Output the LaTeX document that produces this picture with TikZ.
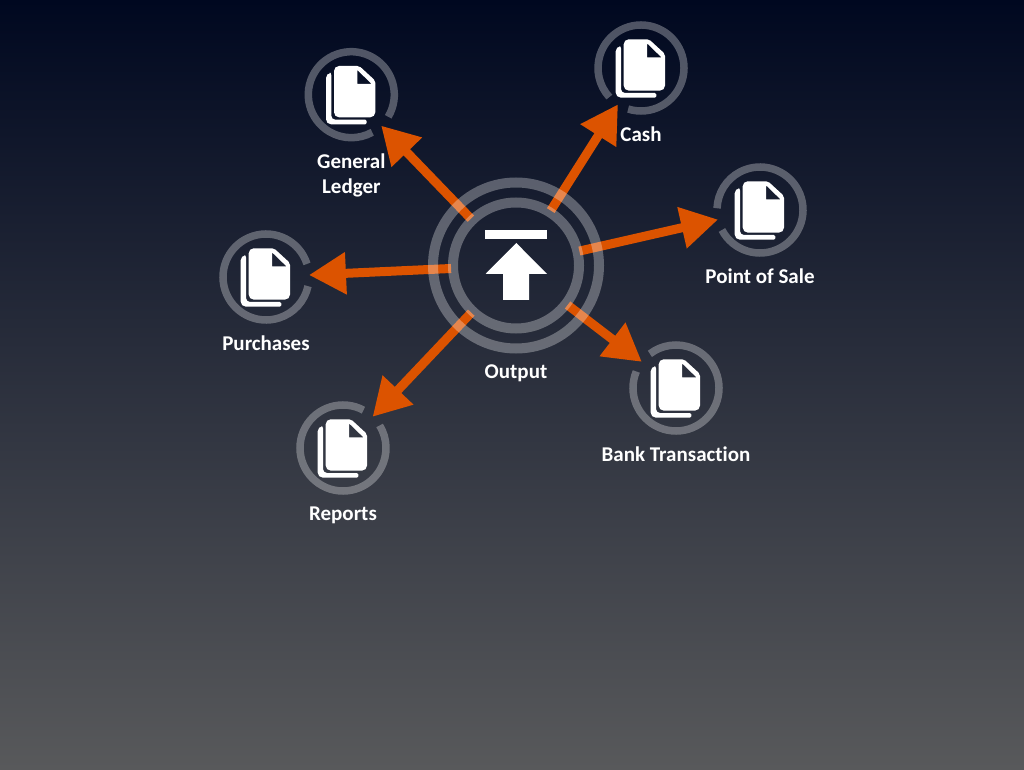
\documentclass[tikz,border=0pt]{standalone}
\usepackage{fontspec}
\setmainfont[Ligatures=NoCommon]{Carlito}
\usepackage{xcolor}
\usetikzlibrary{arrows.meta, positioning}
\definecolor{slidetop}{HTML}{000820}
\definecolor{slidebottom}{HTML}{58595B}
\definecolor{flowred}{HTML}{DC5300}
\tikzset{
  tsat/.style={circle, inner sep=0pt, outer sep=0pt, minimum size=86pt},
  thub/.style={circle, inner sep=0pt, outer sep=0pt, minimum size=130pt},
  tlbl/.style={text=white, align=center, inner sep=0pt, font=\fontsize{21}{25}\selectfont\bfseries},
  tflow/.style={-{Triangle[length=37pt,width=40pt]}, line width=9pt, flowred},
  tring/.style={draw=white, draw opacity=0.3, line width=10pt},
  tarc/.style={draw=white, draw opacity=0.3, line width=7.5pt},
  docicon/.pic={
    \fill[white] [rounded corners=2pt] (-25.3,21.7) -- (-20,21.7) [rounded corners=4pt] -- (-20,-25) [rounded corners=1.5pt] -- (15.4,-25) -- (15.4,-29.6) [rounded corners=5pt] -- (-25.3,-29.6) -- cycle;
    \fill[white, even odd rule] [rounded corners=5pt] (-17.3,28.7) [rounded corners=2pt] -- (8,28.7) -- (24,14) [rounded corners=5pt] -- (24,-22.6) -- (-17.3,-22.6) -- cycle
      [sharp corners] (6,24.7) -- (6,10.7) -- (20.4,10.7) -- cycle;
  },
  uploadicon/.pic={
    \fill[white] (-30.7,35.5) rectangle (31,26.5);
    \fill[white] (0.3,22.5) -- (31,-8.5) -- (13,-8.5) -- (13,-34.5) -- (-13,-34.5) -- (-13,-8.5) -- (-30.5,-8.5) -- cycle;
  },
}
\begin{document}
\begin{tikzpicture}[x=1pt, y=1pt, node distance=15.5pt]
    \shade[top color=slidetop, bottom color=slidebottom] (0,0) rectangle (1024,769);
    \node[thub] (hub) at (516,503.5) {};
    \node[tsat] (ledger) at (351.3,674.3) {};
    \node[tsat] (cash) at (641,701) {};
    \node[tsat] (sale) at (760,559) {};
    \node[tsat] (bank) at (676,381) {};
    \node[tsat] (reports) at (343,321) {};
    \node[tsat] (purchases) at (266,492) {};
    \node[tlbl, below=of hub, yshift=-18.5pt] (hublbl) {Output};
    \node[tlbl, below=of ledger] (ledgerlbl) {General\\Ledger};
    \node[tlbl, below=of cash] (cashlbl) {Cash};
    \node[tlbl, below=of sale] (salelbl) {Point of Sale};
    \node[tlbl, below=of bank] (banklbl) {Bank Transaction};
    \node[tlbl, below=of reports] (reportslbl) {Reports};
    \node[tlbl, below=of purchases] (purchaseslbl) {Purchases};
    \foreach \sat in {ledger, cash, sale, bank, reports, purchases}
      \draw[tflow] (hub) -- (\sat);
    \draw[tring] (hub.center) circle[radius=83pt];
    \draw[tring] (hub.center) circle[radius=63pt];
    \pic at (hub.center) {uploadicon};
    \foreach \sat/\ang in {ledger/-45.9, cash/237.6, sale/192.7, bank/142.4, reports/46.6, purchases/2.7} {
      \draw[tarc] (\sat.center) ++(\ang+15:43pt) arc[start angle=\ang+15, delta angle=330, radius=43pt];
      \pic at (\sat.center) {docicon};
    }
  \end{tikzpicture}
\end{document}
